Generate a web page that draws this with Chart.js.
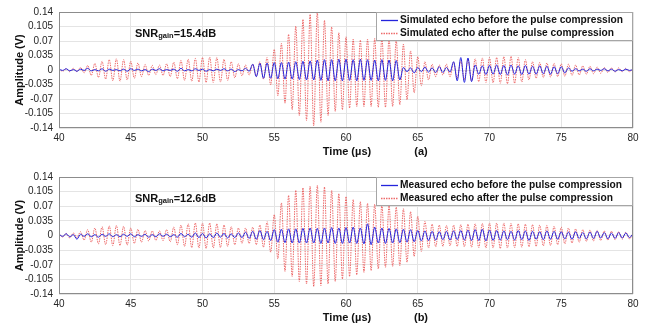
<!DOCTYPE html>
<html>
<head>
<meta charset="utf-8">
<script src="https://cdn.jsdelivr.net/npm/chart.js@4.4.1/dist/chart.umd.min.js"></script>
<style>
  html, body { margin: 0; padding: 0; background: #fff; }
  .panel { position: absolute; left: 0; width: 649px; }
</style>
</head>
<body>
<div class="panel" style="top:0;height:165px"><canvas id="chartA" width="649" height="165"></canvas></div>
<div class="panel" style="top:165px;height:166px"><canvas id="chartB" width="649" height="166"></canvas></div>
<script>
// sampling grid: one extremum every 0.25 us, 40..80 us
var tStart = 40, tStep = 0.25;
var xTicks = [40, 45, 50, 55, 60, 65, 70, 75, 80];
var yTicks = [-0.14, -0.105, -0.07, -0.035, 0, 0.035, 0.07, 0.105, 0.14];

// peak values, in mV, one row = 5 us
var simBefore = [
  2,-1,3,-2,1,-3,2,-1,4,-2,1,-2,3,-3,2,-1,1,-2,2,-3,
  3,-1,2,-2,1,-4,2,-1,3,-2,1,-1,2,-3,4,-2,1,-2,3,-1,
  2,-3,1,-2,2,-1,3,-2,2,-4,1,-2,4,-3,14,-16,16,-20,17,-20,
  18,-21,18,-22,19,-22,20,-23,21,-24,22,-24,24,-25,25,-26,25,-26,26,-26,
  26,-25,25,-26,26,-25,25,-25,24,-26,25,-25,24,-26,23,-24,6,-4,5,-7,
  6,-4,7,-5,5,-6,8,-6,6,-5,20,-26,30,-30,29,-28,12,-10,10,-11,
  11,-10,12,-11,11,-12,12,-10,10,-11,11,-10,9,-10,10,-9,9,-10,8,-9,
  8,-7,5,-3,3,-2,2,-3,3,-2,2,-1,3,-2,2,-3,1,-2,2,-1,
  1
];
var simAfter = [
  4,-3,3,-4,4,-4,6,-7,11,-13,16,-18,21,-22,25,-26,27,-27,25,-24,
  21,-20,17,-16,13,-13,11,-11,12,-13,15,-16,19,-21,23,-25,26,-27,28,-29,
  30,-30,31,-30,30,-29,26,-25,20,-19,15,-14,12,-12,14,-16,20,-22,30,-36,
  50,-62,64,-80,86,-96,106,-110,122,-122,134,-135,140,-126,120,-110,104,-100,90,-96,
  80,-92,74,-88,72,-88,74,-88,76,-90,78,-90,76,-88,72,-84,62,-72,46,-55,
  32,-38,20,-24,14,-16,12,-12,14,-16,19,-20,22,-23,25,-26,27,-28,29,-30,
  30,-31,30,-32,32,-33,33,-32,30,-29,25,-24,20,-20,18,-18,17,-17,16,-16,
  15,-15,14,-13,12,-12,10,-10,9,-9,7,-8,6,-6,5,-5,5,-4,4,-4,
  3
];
var measBefore = [
  3,-2,4,-3,2,-9,3,-2,4,-3,2,-4,3,-2,4,-3,2,-3,3,-2,
  4,-3,2,-2,3,-4,2,-3,4,-2,3,-3,2,-4,5,-3,3,-4,6,-5,
  5,-6,4,-5,6,-4,5,-6,4,-5,6,-5,8,-7,10,-9,12,-10,10,-12,
  14,-16,15,-17,16,-18,16,-18,17,-18,18,-18,17,-19,18,-18,19,-19,18,-19,
  19,-18,20,-19,18,-20,28,-22,20,-18,18,-19,17,-18,16,-17,15,-16,14,-15,
  12,-13,11,-12,10,-11,9,-10,10,-11,11,-10,12,-11,13,-12,14,-12,15,-13,
  13,-12,12,-11,11,-10,10,-11,12,-10,11,-12,10,-9,9,-10,11,-9,10,-9,
  9,-8,8,-9,9,-7,7,-8,8,-7,10,-6,7,-8,6,-7,7,-6,6,-5,
  4
];
var measAfter = [
  5,-4,5,-6,6,-5,9,-11,14,-16,18,-20,21,-22,23,-24,24,-24,22,-23,
  18,-19,15,-16,12,-13,11,-12,11,-12,14,-15,20,-22,25,-26,28,-29,30,-30,
  30,-31,30,-30,28,-29,25,-26,21,-22,18,-19,18,-19,20,-22,25,-28,33,-40,
  50,-56,78,-86,96,-98,108,-110,114,-116,118,-122,120,-120,116,-116,108,-110,100,-104,
  93,-98,86,-94,81,-88,77,-84,75,-80,73,-76,71,-74,68,-72,64,-64,57,-50,
  46,-38,34,-30,27,-27,25,-26,24,-25,25,-26,26,-27,27,-28,28,-29,29,-30,
  30,-30,30,-31,30,-30,29,-29,28,-28,27,-27,26,-26,25,-25,24,-24,22,-22,
  20,-20,18,-18,16,-16,14,-14,13,-13,12,-12,11,-11,10,-10,9,-9,8,-8,
  6
];

var simLabels = ['Simulated echo before the pulse compression', 'Simulated echo after the pulse compression'];
var measLabels = ['Measured echo before the pulse compression', 'Measured echo after the pulse compression'];

var blue = '#2424dc';
var red = 'rgba(232,70,70,0.8)';

function toPoints(mv) {
  return mv.map(function(v, i) { return { x: tStart + i * tStep, y: v / 1000 }; });
}

// frame, axis titles, legend box and SNR note
var panelDecor = {
  id: 'panelDecor',
  afterDraw: function(chart, args, o) {
    var ctx = chart.ctx, a = chart.chartArea;
    ctx.save();
    ctx.strokeStyle = '#8c8c8c';
    ctx.lineWidth = 1;
    ctx.strokeRect(a.left + 0.5, a.top + 0.5, a.right - a.left - 1, a.bottom - a.top - 1);

    ctx.fillStyle = '#111';
    ctx.font = 'bold 11px "Liberation Sans", Arial, sans-serif';
    ctx.textAlign = 'center';
    ctx.textBaseline = 'middle';
    ctx.fillText('Time (\u00b5s)', 347, a.bottom + 24);
    ctx.fillText(o.tag, 421, a.bottom + 24);

    ctx.save();
    ctx.translate(20, (a.top + a.bottom) / 2);
    ctx.rotate(-Math.PI / 2);
    ctx.fillText('Amplitude (V)', 0, 0);
    ctx.restore();

    // SNR gain note
    ctx.textAlign = 'left';
    ctx.textBaseline = 'alphabetic';
    var sx = 135, sy = a.top + 25;
    ctx.font = 'bold 11px "Liberation Sans", Arial, sans-serif';
    ctx.fillText('SNR', sx, sy);
    sx += ctx.measureText('SNR').width;
    ctx.font = 'bold 7.5px "Liberation Sans", Arial, sans-serif';
    ctx.fillText('gain', sx, sy + 1);
    sx += ctx.measureText('gain').width;
    ctx.font = 'bold 11px "Liberation Sans", Arial, sans-serif';
    ctx.fillText('=' + o.snr, sx, sy);

    // legend
    var lx = 376, ly = a.top, lw = a.right - lx, lh = 29;
    ctx.fillStyle = '#fff';
    ctx.fillRect(lx, ly, lw, lh);
    ctx.strokeStyle = '#a6a6a6';
    ctx.strokeRect(lx + 0.5, ly + 0.5, lw - 1, lh - 1);
    ctx.font = 'bold 10.2px "Liberation Sans", Arial, sans-serif';
    ctx.textBaseline = 'middle';
    var rows = [{ y: ly + 8, c: blue, d: [] }, { y: ly + 21, c: red, d: [1.5, 1] }];
    rows.forEach(function(r, i) {
      ctx.beginPath();
      ctx.strokeStyle = r.c;
      ctx.lineWidth = 1.3;
      ctx.setLineDash(r.d);
      ctx.moveTo(381, r.y + 0.5);
      ctx.lineTo(398, r.y + 0.5);
      ctx.stroke();
      ctx.setLineDash([]);
      ctx.fillStyle = '#111';
      ctx.fillText(o.labels[i], 400, r.y);
    });
    ctx.restore();
  }
};

function makePanel(id, before, after, labels, snr, tag, topPad) {
  var tickFont = { family: '"Liberation Sans", Arial, sans-serif', size: 10 };
  return new Chart(document.getElementById(id), {
    type: 'line',
    data: {
      datasets: [
        { label: labels[0], data: toPoints(before), borderColor: blue, borderWidth: 1,
          pointRadius: 0, cubicInterpolationMode: 'monotone' },
        { label: labels[1], data: toPoints(after), borderColor: red, borderWidth: 1,
          borderDash: [1.5, 1], pointRadius: 0, cubicInterpolationMode: 'monotone' }
      ]
    },
    options: {
      responsive: false,
      animation: false,
      layout: { padding: { left: 0, right: 16, top: topPad, bottom: 0 } },
      plugins: {
        legend: { display: false },
        tooltip: { enabled: false },
        panelDecor: { labels: labels, snr: snr, tag: tag }
      },
      scales: {
        x: {
          type: 'linear', min: 40, max: 80,
          afterFit: function(s) { s.height = 37; },
          afterBuildTicks: function(s) { s.ticks = xTicks.map(function(v) { return { value: v }; }); },
          grid: { color: '#e4e4e4', drawTicks: false },
          border: { display: false },
          ticks: { color: '#262626', font: tickFont, padding: 4, maxRotation: 0 }
        },
        y: {
          min: -0.14, max: 0.14,
          afterFit: function(s) { s.width = 59; },
          afterBuildTicks: function(s) { s.ticks = yTicks.map(function(v) { return { value: v }; }); },
          grid: { color: '#e4e4e4', drawTicks: false },
          border: { display: false },
          ticks: { color: '#262626', font: tickFont, padding: 6, autoSkip: false,
            callback: function(v) { return String(+Number(v).toFixed(3)); } }
        }
      }
    },
    plugins: [panelDecor]
  });
}

makePanel('chartA', simBefore, simAfter, simLabels, '15.4dB', '(a)', 8);
makePanel('chartB', measBefore, measAfter, measLabels, '12.6dB', '(b)', 10);
</script>
</body>
</html>
